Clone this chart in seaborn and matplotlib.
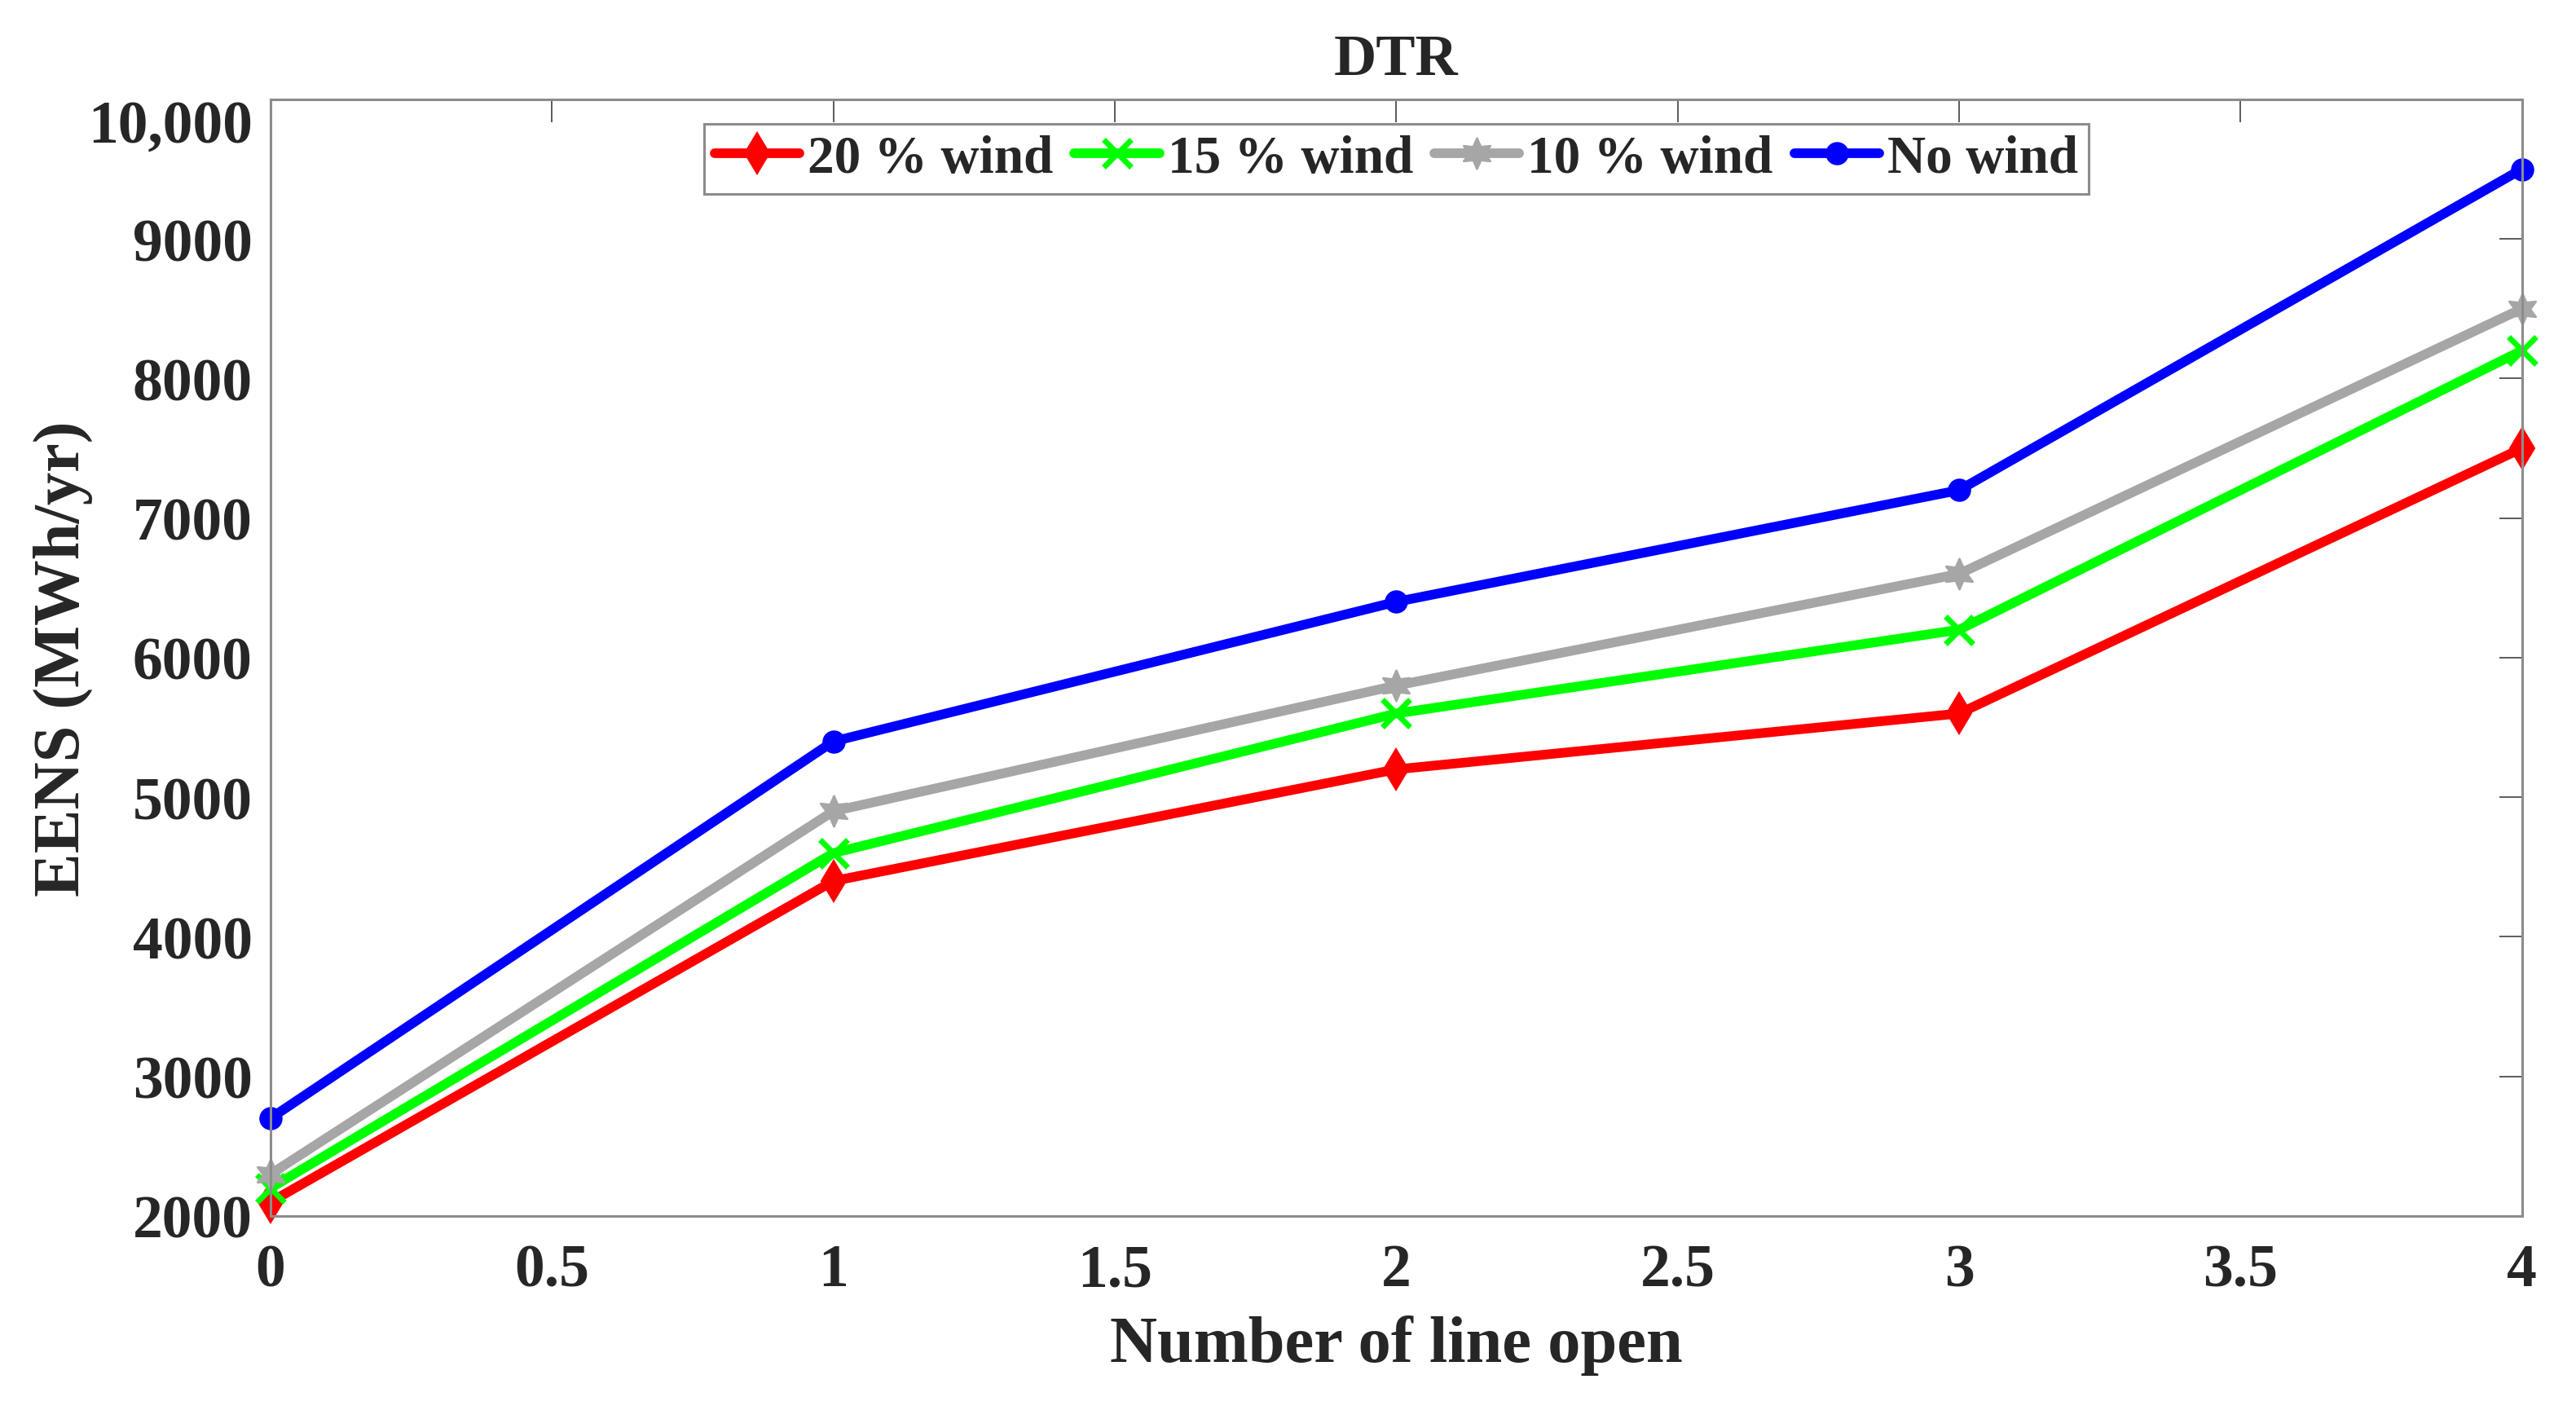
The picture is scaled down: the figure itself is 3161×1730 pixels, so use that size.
import matplotlib
matplotlib.use("Agg")
import matplotlib.pyplot as plt
import seaborn as sns
import pandas as pd

# values
lines_open = [0, 1, 2, 3, 4]
wind_20 = [2100, 4400, 5200, 5600, 7500]
wind_15 = [2200, 4600, 5600, 6200, 8200]
wind_10 = [2300, 4900, 5800, 6600, 8500]
no_wind = [2700, 5400, 6400, 7200, 9500]

series_names = ["20 % wind", "15 % wind", "10 % wind", "No wind"]
x_ticks = [0, 0.5, 1, 1.5, 2, 2.5, 3, 3.5, 4]
x_tick_labels = ["0", "0.5", "1", "1.5", "2", "2.5", "3", "3.5", "4"]
y_ticks = [2000, 3000, 4000, 5000, 6000, 7000, 8000, 9000, 10000]
y_tick_labels = ["2000", "3000", "4000", "5000", "6000", "7000", "8000", "9000", "10,000"]

sns.set_style("white")
plt.rcParams["font.family"] = ["Liberation Serif", "DejaVu Serif"]
plt.rcParams["font.weight"] = "bold"

df = pd.DataFrame({
    "x": lines_open * 4,
    "y": wind_20 + wind_15 + wind_10 + no_wind,
    "series": [s for s in series_names for _ in lines_open],
})

colors = {"20 % wind": "#ff0000", "15 % wind": "#00ff00", "10 % wind": "#a6a6a6", "No wind": "#0000ff"}
markers = {"20 % wind": "d", "15 % wind": "x", "10 % wind": (6, 1, 0), "No wind": "o"}
msizes = {"20 % wind": 25, "15 % wind": 24, "10 % wind": 28, "No wind": 19}
mews = {"20 % wind": 1.5, "15 % wind": 5, "10 % wind": 1.5, "No wind": 1.5}

fig = plt.figure(figsize=(31.61, 17.31), dpi=100)
ax = fig.add_axes([0.105, 0.1375, 0.874, 0.7915])

for name in series_names:
    sub = df[df["series"] == name]
    sns.lineplot(data=sub, x="x", y="y", ax=ax, color=colors[name], linewidth=8.5,
                 marker=markers[name], markersize=msizes[name],
                 markeredgewidth=mews[name], markeredgecolor=colors[name],
                 markerfacecolor=colors[name], clip_on=False, label=name)

ax.set_xlim(0, 4)
ax.set_ylim(2000, 10000)
ax.set_xticks(x_ticks)
ax.set_xticklabels(x_tick_labels)
ax.set_yticks(y_ticks)
ax.set_yticklabels(y_tick_labels)
ax.tick_params(axis="both", which="major", direction="in", length=20, width=1.2,
               color="#404040", labelsize=53, top=True, right=True)
ax.tick_params(axis="x", pad=24)
ax.tick_params(axis="y", pad=16)
ax.get_yticklabels()[-1].set_verticalalignment("top")
for sp in ax.spines.values():
    sp.set_color("#8c8c8c")
    sp.set_linewidth(2.2)

ax.set_title("DTR", fontsize=52, fontweight="bold", pad=22)
ax.set_xlabel("Number of line open", fontsize=58, fontweight="bold")
ax.set_ylabel("EENS (MWh/yr)", fontsize=58, fontweight="bold")
ax.xaxis.set_label_coords(0.5, -0.088)
ax.yaxis.set_label_coords(-0.079, 0.5)

leg = ax.legend(loc="upper center", bbox_to_anchor=(0.5, 0.978), ncol=4, fontsize=47,
                frameon=True, fancybox=False, shadow=False, framealpha=1,
                handlelength=1.6, handletextpad=0.15, columnspacing=0.4,
                borderpad=0.2, borderaxespad=0)
leg.get_frame().set_edgecolor("#8c8c8c")
leg.get_frame().set_linewidth(2.2)

fig.savefig("out.png", dpi=100)
